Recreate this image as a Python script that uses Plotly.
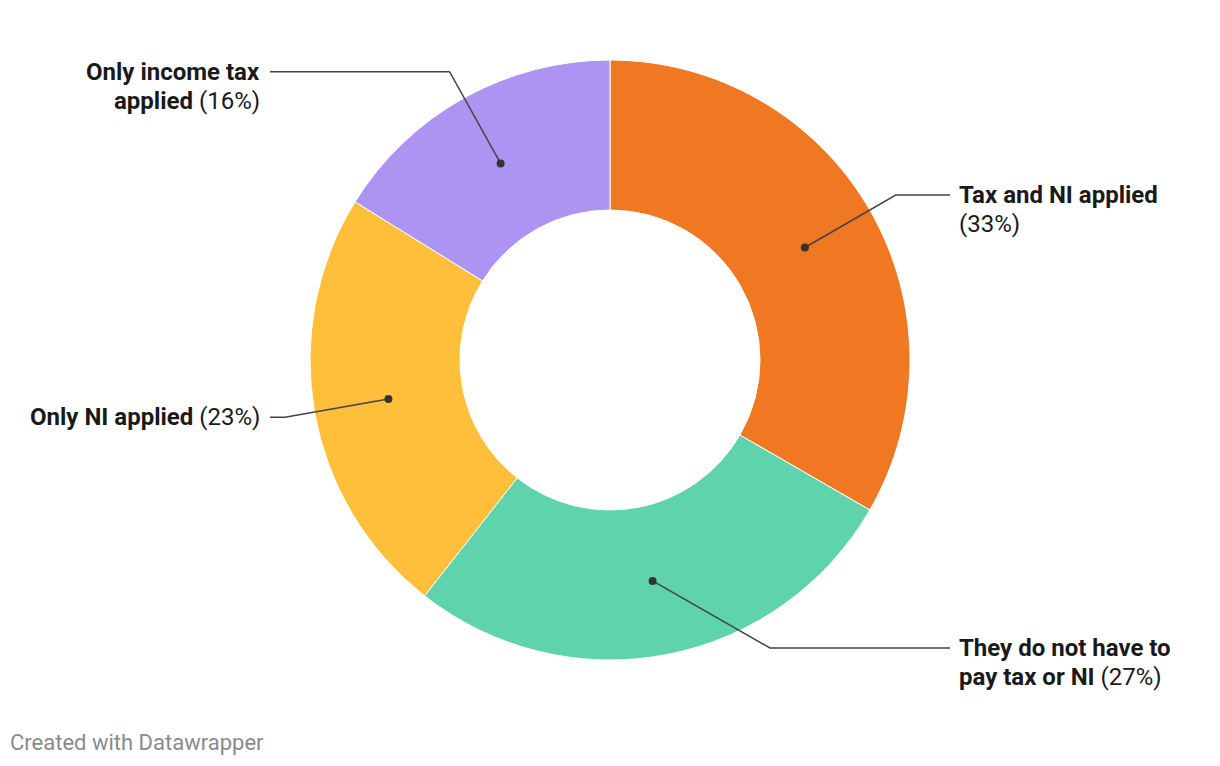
import math
import plotly.graph_objects as go

# ---- data ----
categories = ["Tax and NI applied", "They do not have to pay tax or NI", "Only NI applied", "Only income tax applied"]
values = [33, 27, 23, 16]
colors = ["#F07823", "#5FD3AB", "#FFBF3A", "#AD93F2"]
# label lines: (bold part, normal part) per line
label_lines = [
    [("Tax and NI applied", ""), ("", "(33%)")],
    [("They do not have to", ""), ("pay tax or NI", " (27%)")],
    [("Only NI applied", " (23%)")],
    [("Only income tax", ""), ("applied", " (16%)")],
]
label_side = ["right", "right", "left", "left"]

# ---- layout geometry (pixels) ----
W, H = 1220, 766
CX, CY, R_OUT, HOLE = 610, 360, 300, 0.5
R_DOT, R_ELBOW = 225, 330
elbow_override = {1: (770, 648)}
X_RIGHT_LINE_END, X_LEFT_LINE_END = 950, 270
X_RIGHT_TEXT, X_LEFT_TEXT = 957, 262
LINE_H = 29
DOT_R = 4

fig = go.Figure()
fig.add_trace(go.Pie(
    labels=categories, values=values, sort=False, direction="clockwise", rotation=0,
    hole=HOLE, marker=dict(colors=colors, line=dict(color="white", width=1)),
    textinfo="none", hoverinfo="skip", showlegend=False,
    domain=dict(x=[(CX - R_OUT) / W, (CX + R_OUT) / W],
                y=[1 - (CY + R_OUT) / H, 1 - (CY - R_OUT) / H]),
))
# invisible trace to create pixel-coordinate axes
fig.add_trace(go.Scatter(x=[0, W], y=[0, H], mode="markers", marker=dict(opacity=0),
                         hoverinfo="skip", showlegend=False))

total = sum(values)
cum = 0
annotations = []
shapes = []
for i, v in enumerate(values):
    mid = (cum + v / 2) / total * 2 * math.pi
    cum += v
    dx, dy = math.sin(mid), -math.cos(mid)
    dot = (CX + R_DOT * dx, CY + R_DOT * dy)
    elbow = elbow_override.get(i, (CX + R_ELBOW * dx, CY + R_ELBOW * dy))
    right = label_side[i] == "right"
    end_x = X_RIGHT_LINE_END if right else X_LEFT_LINE_END
    shapes.append(dict(type="path", xref="x", yref="y", layer="above",
                       path=f"M{dot[0]},{dot[1]} L{elbow[0]},{elbow[1]} L{end_x},{elbow[1]}",
                       line=dict(color="#444444", width=1.5)))
    shapes.append(dict(type="circle", xref="x", yref="y", layer="above",
                       x0=dot[0] - DOT_R, x1=dot[0] + DOT_R, y0=dot[1] - DOT_R, y1=dot[1] + DOT_R,
                       fillcolor="#333333", line=dict(width=0)))
    for j, (b, n) in enumerate(label_lines[i]):
        txt = (f"<b>{b}</b>" if b else "") + n
        annotations.append(dict(
            x=X_RIGHT_TEXT if right else X_LEFT_TEXT, y=elbow[1] + j * LINE_H,
            xref="x", yref="y", text=txt, showarrow=False,
            xanchor="left" if right else "right", yanchor="middle",
            align="left" if right else "right",
            font=dict(family="Roboto", size=24, color="#1a1a1a")))

annotations.append(dict(
    x=8, y=742, xref="x", yref="y", text="Created with Datawrapper", showarrow=False,
    xanchor="left", yanchor="middle",
    font=dict(family="Roboto", size=22, color="#8a8a8a")))

fig.update_layout(
    width=W, height=H, margin=dict(l=0, r=0, t=0, b=0),
    paper_bgcolor="white", plot_bgcolor="rgba(0,0,0,0)",
    xaxis=dict(range=[0, W], visible=False, fixedrange=True, domain=[0, 1]),
    yaxis=dict(range=[H, 0], visible=False, fixedrange=True, domain=[0, 1]),
    annotations=annotations, shapes=shapes,
    font=dict(family="Roboto"),
)

fig.write_html("out.html")
